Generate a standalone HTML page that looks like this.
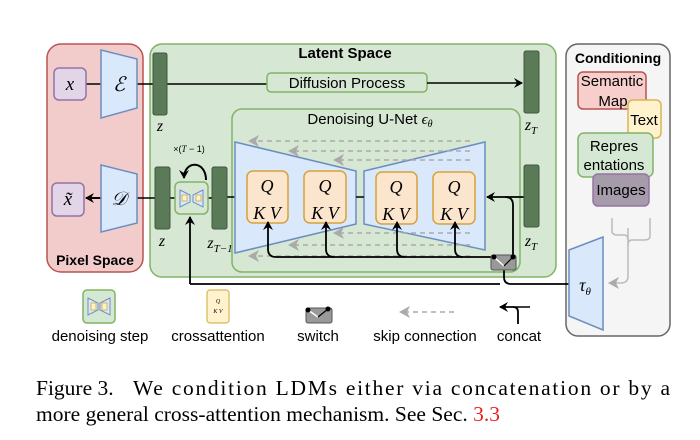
<!DOCTYPE html>
<html><head><meta charset="utf-8"><style>
html,body{margin:0;padding:0;background:#fff;width:700px;height:440px;overflow:hidden}
svg{display:block}
.s{font-family:"Liberation Sans",sans-serif}
.m{font-family:"Liberation Serif",serif;font-style:italic}
</style></head><body>
<svg width="700" height="440" viewBox="0 0 700 440" xmlns="http://www.w3.org/2000/svg">
<defs>
<marker id="ab" markerWidth="10" markerHeight="10" refX="8" refY="5" orient="auto" markerUnits="userSpaceOnUse"><path d="M0,0 L9,5 L0,10 L3,5 z" fill="#000"/></marker>
<marker id="ag" markerWidth="12" markerHeight="12" refX="9" refY="6" orient="auto" markerUnits="userSpaceOnUse"><path d="M0,0 L11,6 L0,12 L3,6 z" fill="#aaa"/></marker>
</defs>
<rect x="47" y="44" width="96" height="228" rx="14" fill="#f2cccb" stroke="#b85450" stroke-width="1.5"/>
<text x="95" y="265" class="s" font-weight="bold" font-size="14" text-anchor="middle">Pixel Space</text>
<rect x="150" y="44" width="406" height="233" rx="12" fill="#d6e8d4" stroke="#82b366" stroke-width="1.5"/>
<text x="345" y="58" class="s" font-weight="bold" font-size="15" text-anchor="middle">Latent Space</text>
<rect x="566" y="44" width="104" height="292" rx="12" fill="#f5f5f5" stroke="#666" stroke-width="1.5"/>
<text x="618" y="63" class="s" font-weight="bold" font-size="14" text-anchor="middle">Conditioning</text>

<line x1="86" y1="84" x2="101" y2="84" stroke="#000" stroke-width="1.5"/>
<line x1="137" y1="84" x2="267" y2="84" stroke="#000" stroke-width="1.5"/>
<rect x="54" y="68" width="32" height="32" rx="5" fill="#e1d5e7" stroke="#9673a6" stroke-width="1.5"/>
<text x="70" y="90" class="m" font-size="19" text-anchor="middle">x</text>
<polygon points="101,50 137,59 137,108 101,118" fill="#dae8fc" stroke="#6c8ebf" stroke-width="1.5"/>
<text x="119" y="91" class="m" font-size="20" text-anchor="middle">ℰ</text>
<rect x="153" y="53" width="14" height="62" rx="2" fill="#5a7a58" stroke="#3d5a3b"/>
<text x="160" y="131" class="m" font-size="16" text-anchor="middle">z</text>
<rect x="267" y="73" width="160" height="19" rx="4" fill="#d6e8d4" stroke="#82b366" stroke-width="1.5"/>
<text x="347" y="88" class="s" font-size="15" text-anchor="middle">Diffusion Process</text>
<line x1="427" y1="83" x2="522" y2="83" stroke="#000" stroke-width="1.5" marker-end="url(#ab)"/>
<rect x="524" y="51" width="15" height="62" rx="2" fill="#5a7a58" stroke="#3d5a3b"/>
<text x="531" y="130" class="m" font-size="16" text-anchor="middle">z<tspan font-size="11" dy="4">T</tspan></text>

<rect x="232" y="109" width="288" height="163" rx="10" fill="#d6e8d4" stroke="#82b366" stroke-width="1.5"/>
<text x="370" y="124" class="s" font-size="15" text-anchor="middle">Denoising U-Net <tspan class="m">ϵ</tspan><tspan class="m" font-size="10" dy="3">θ</tspan></text>

<line x1="137" y1="198" x2="155" y2="198" stroke="#000" stroke-width="1.5"/>
<line x1="101" y1="198" x2="86" y2="198" stroke="#000" stroke-width="2" marker-end="url(#ab)"/>
<rect x="52" y="183" width="32" height="33" rx="5" fill="#e1d5e7" stroke="#9673a6" stroke-width="1.5"/>
<text x="68" y="205" class="m" font-size="19" text-anchor="middle">x̃</text>
<polygon points="101,165 137,174 137,223 101,232" fill="#dae8fc" stroke="#6c8ebf" stroke-width="1.5"/>
<text x="119" y="205" class="m" font-size="19" text-anchor="middle">𝒟</text>
<line x1="170" y1="198" x2="175" y2="198" stroke="#000" stroke-width="1.5"/>
<line x1="208" y1="198" x2="212" y2="198" stroke="#000" stroke-width="1.5"/>
<line x1="227" y1="197" x2="235" y2="197" stroke="#000" stroke-width="1.5"/>
<rect x="155" y="167" width="15" height="62" rx="2" fill="#5a7a58" stroke="#3d5a3b"/>
<rect x="212" y="167" width="15" height="62" rx="2" fill="#5a7a58" stroke="#3d5a3b"/>
<text x="162" y="246" class="m" font-size="16" text-anchor="middle">z</text>
<text x="220" y="248" class="m" font-size="16" text-anchor="middle">z<tspan font-size="11" dy="4">T−1</tspan></text>
<rect x="175" y="182" width="33" height="32" rx="5" fill="#d6e8d4" stroke="#82b366" stroke-width="1.5"/>
<polygon points="180,190 190,195 190,202 180,207" fill="#dae8fc" stroke="#6c8ebf"/>
<polygon points="203,190 193,195 193,202 203,207" fill="#dae8fc" stroke="#6c8ebf"/>
<rect x="182" y="195" width="5" height="6" fill="#fff2cc" stroke="#d6b656"/>
<rect x="196" y="195" width="5" height="6" fill="#fff2cc" stroke="#d6b656"/>
<path d="M206,180 C206,160 184,160 184,178" fill="none" stroke="#000" stroke-width="2" marker-end="url(#ab)"/>
<text x="189" y="152" class="s" font-size="9" text-anchor="middle">×(<tspan class="m">T</tspan> − 1)</text>
<path d="M190,284 L190,217" fill="none" stroke="#000" stroke-width="1.8" marker-end="url(#ab)"/>

<polygon points="235,142 356,171 356,224 235,253" fill="#dae8fc" stroke="#6c8ebf" stroke-width="1.5"/>
<polygon points="364,171 485,142 485,250 364,224" fill="#dae8fc" stroke="#6c8ebf" stroke-width="1.5"/>
<line x1="356" y1="197" x2="364" y2="197" stroke="#000" stroke-width="1.5"/>
<g stroke="#aaa" stroke-width="1.5" stroke-dasharray="5,4" fill="none">
<line x1="470" y1="141" x2="250" y2="141" marker-end="url(#ag)"/>
<line x1="470" y1="151" x2="290" y2="151" marker-end="url(#ag)"/>
<line x1="470" y1="160" x2="335" y2="160" marker-end="url(#ag)"/>
<line x1="470" y1="233" x2="335" y2="233" marker-end="url(#ag)"/>
<line x1="470" y1="245" x2="290" y2="245" marker-end="url(#ag)"/>
<line x1="470" y1="256" x2="250" y2="256" marker-end="url(#ag)"/>
</g>
<g fill="#fce5cd" stroke="#d6a23a" stroke-width="1.5">
<rect x="247" y="171" width="41" height="52" rx="6"/>
<rect x="304" y="171" width="42" height="52" rx="6"/>
<rect x="376" y="172" width="41" height="52" rx="6"/>
<rect x="433" y="172" width="42" height="52" rx="6"/>
</g>
<g class="m" font-size="18" text-anchor="middle">
<text x="267" y="192">Q</text><text x="267" y="219">K V</text>
<text x="325" y="192">Q</text><text x="325" y="219">K V</text>
<text x="396" y="193">Q</text><text x="396" y="220">K V</text>
<text x="454" y="193">Q</text><text x="454" y="220">K V</text>
</g>
<g fill="none" stroke="#000" stroke-width="1.8">
<path d="M494,257 L276,257 Q268,257 268,249 L268,222" marker-end="url(#ab)"/>
<path d="M334,257 Q326,257 326,249 L326,222" marker-end="url(#ab)"/>
<path d="M405,257 Q397,257 397,249 L397,222" marker-end="url(#ab)"/>
<path d="M463,257 Q455,257 455,249 L455,222" marker-end="url(#ab)"/>
<path d="M524,197 L487,197" marker-end="url(#ab)"/>
<path d="M513,257 L513,205 Q513,197 505,197"/>
<path d="M504,266 L504,277 Q504,284 511,284 L570,284"/>
<path d="M190,284 L500,284"/>
</g>
<rect x="524" y="165" width="15" height="62" rx="2" fill="#5a7a58" stroke="#3d5a3b"/>
<text x="531" y="246" class="m" font-size="16" text-anchor="middle">z<tspan font-size="11" dy="4">T</tspan></text>
<rect x="491" y="255" width="25" height="15" rx="2" fill="#999" stroke="#555"/>
<line x1="494" y1="257" x2="504" y2="266" stroke="#fff" stroke-width="1.5"/>
<line x1="504" y1="266" x2="513" y2="257" stroke="#000" stroke-width="1.2"/>
<circle cx="494" cy="257" r="2.5" fill="#000"/><circle cx="513" cy="257" r="2.5" fill="#000"/>

<rect x="578" y="72" width="68" height="37" rx="5" fill="#f8cecc" stroke="#b85450" stroke-width="1.5"/>
<text x="612" y="86" class="s" font-size="15" text-anchor="middle">Semantic</text>
<text x="613" y="106" class="s" font-size="15" text-anchor="middle">Map</text>
<rect x="628" y="100" width="33" height="38" rx="5" fill="#fff2cc" stroke="#d6b656" stroke-width="1.5"/>
<text x="644" y="125" class="s" font-size="15" text-anchor="middle">Text</text>
<rect x="578" y="133" width="75" height="44" rx="6" fill="#d5e8d4" stroke="#82b366" stroke-width="1.5"/>
<text x="614" y="151" class="s" font-size="15" text-anchor="middle">Repres</text>
<text x="614" y="170" class="s" font-size="15" text-anchor="middle">entations</text>
<rect x="593" y="174" width="56" height="32" rx="5" fill="#a59bab" stroke="#9673a6" stroke-width="1.5"/>
<text x="621" y="195" class="s" font-size="15" text-anchor="middle">Images</text>
<g fill="none" stroke="#bbb" stroke-width="1.5">
<path d="M612,218 L612,231 Q612,235 618,235 L624,235 Q628,235 628,240"/>
<path d="M650,218 L650,236 Q650,240 644,240 L632,240 Q628,240 628,245"/>
<path d="M628,228 L628,276 Q628,283 621,283 L610,283" marker-end="url(#ag)"/>
</g>
<polygon points="569,250 603,237 603,330 569,316" fill="#dae8fc" stroke="#6c8ebf" stroke-width="1.5"/>
<text x="585" y="291" class="m" font-size="18" text-anchor="middle">τ<tspan font-size="11" dy="4">θ</tspan></text>

<rect x="83" y="290" width="32" height="33" rx="4" fill="#d5e8d4" stroke="#82b366" stroke-width="1.5"/>
<polygon points="88,298 98,303 98,310 88,315" fill="#dae8fc" stroke="#6c8ebf"/>
<polygon points="110,298 100,303 100,310 110,315" fill="#dae8fc" stroke="#6c8ebf"/>
<rect x="91" y="303" width="5" height="7" fill="#fff2cc" stroke="#d6b656"/>
<rect x="102" y="303" width="5" height="7" fill="#fff2cc" stroke="#d6b656"/>
<text x="100" y="341" class="s" font-size="15" text-anchor="middle">denoising step</text>
<rect x="207" y="290" width="22" height="33" rx="3" fill="#fff2cc" stroke="#d6b656" stroke-width="1.2"/>
<text x="218" y="303" class="m" font-size="6" text-anchor="middle">Q</text>
<text x="218" y="313" class="m" font-size="6" text-anchor="middle">K V</text>
<text x="218" y="341" class="s" font-size="15" text-anchor="middle">crossattention</text>
<rect x="306" y="308" width="26" height="15" rx="2" fill="#999" stroke="#555"/>
<line x1="308" y1="310" x2="318" y2="317" stroke="#fff" stroke-width="1.5"/>
<line x1="318" y1="317" x2="328" y2="309" stroke="#000" stroke-width="1.2"/>
<circle cx="308" cy="310" r="2.5" fill="#000"/><circle cx="328" cy="309" r="2.5" fill="#000"/>
<text x="318" y="341" class="s" font-size="15" text-anchor="middle">switch</text>
<line x1="454" y1="312" x2="401" y2="312" stroke="#aaa" stroke-width="1.5" stroke-dasharray="5,4" marker-end="url(#ag)"/>
<text x="425" y="341" class="s" font-size="15" text-anchor="middle">skip connection</text>
<path d="M518,324 L518,312 Q518,307 513,307 L500,307" fill="none" stroke="#000" stroke-width="1.8" marker-end="url(#ab)"/>
<line x1="513" y1="307" x2="530" y2="307" stroke="#000" stroke-width="1.5"/>
<text x="519" y="341" class="s" font-size="15" text-anchor="middle">concat</text>

<text x="36" y="395" font-family="Liberation Serif,serif" font-size="21.5">Figure 3.</text>
<text x="133" y="395" font-family="Liberation Serif,serif" font-size="21.5" textLength="537" lengthAdjust="spacing">We condition LDMs either via concatenation or by a</text>
<text x="36" y="421" font-family="Liberation Serif,serif" font-size="21.5" textLength="464" lengthAdjust="spacing">more general cross-attention mechanism. See Sec. <tspan fill="#e8201f">3.3</tspan></text>
</svg>
</body></html>
